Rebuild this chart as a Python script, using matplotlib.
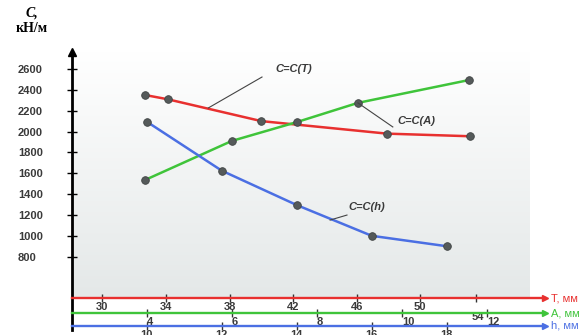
import numpy as np
import matplotlib
matplotlib.use('Agg')
import matplotlib.pyplot as plt
from matplotlib.colors import LinearSegmentedColormap

plt.rcParams['font.family'] = ['Liberation Sans', 'DejaVu Sans']

# данные
c_ticks = [800, 1000, 1200, 1400, 1600, 1800, 2000, 2200, 2400, 2600]

T_ticks = [30, 34, 38, 42, 46, 50]
A_ticks = [4, 6, 8, 10, 12]
h_ticks = [10, 12, 14, 16, 18]

T_vals = [32.7, 34.1, 40.0, 47.9, 53.1]
C_T = [2350, 2310, 2100, 1980, 1955]

A_vals = [3.96, 6.0, 7.52, 8.96, 11.58]
C_A = [1535, 1910, 2090, 2275, 2495]

h_vals = [10, 12, 14, 16, 18]
C_h = [2095, 1625, 1295, 1000, 900]

RED = '#e8302f'
GREEN = '#3fc43a'
BLUE = '#4b6fe3'
DOT = '#555a5a'
TXT = '#3a3a3a'
FS = 8

W, H = 581, 335
fig = plt.figure(figsize=(W / 100, H / 100), dpi=100)
rect = [72 / W, 5 / H, 473 / W, 278 / H]

ax = fig.add_axes(rect)
axA = fig.add_axes(rect, facecolor='none')
axh = fig.add_axes(rect, facecolor='none')

ylim = (96.4, 2763)
pos = {ax: 0.115, axA: 0.061, axh: 0.0144}
col = {ax: RED, axA: GREEN, axh: BLUE}
ax.set_xlim(28.09, 57.84)
axA.set_xlim(2.246, 13.354)
axh.set_xlim(8.008, 20.62)

for a in (ax, axA, axh):
    a.set_ylim(*ylim)
    a.patch.set_alpha(0)
    for s in ('top', 'right', 'left'):
        a.spines[s].set_visible(False)
    a.spines['bottom'].set_position(('axes', pos[a]))
    a.spines['bottom'].set_color(col[a])
    a.spines['bottom'].set_linewidth(1.7)
    a.tick_params(axis='x', direction='inout', length=5.5, width=1.0,
                  color='#333333', labelsize=FS, labelcolor=TXT, pad=0)
    a.plot([1], [pos[a]], marker='>', color=col[a], ms=4.5,
           transform=a.transAxes, clip_on=False)
    if a is not ax:
        a.yaxis.set_visible(False)

ax.set_xticks(T_ticks + [53.5])
ax.set_xticklabels([str(t) for t in T_ticks] + [''], fontweight='bold')
axA.set_xticks(A_ticks)
axA.set_xticklabels([str(t) for t in A_ticks], fontweight='bold', ha='left')
axh.set_xticks(h_ticks)
axh.set_xticklabels([str(t) for t in h_ticks], fontweight='bold')
ax.text(53.6, 0.048, '54', transform=ax.get_xaxis_transform(), ha='center',
        va='center', fontsize=FS, fontweight='bold', color=TXT)

# ось C
ax.spines['left'].set_visible(True)
ax.spines['left'].set_color('black')
ax.spines['left'].set_linewidth(2)
ax.set_yticks(c_ticks)
ax.set_yticklabels([str(c) for c in c_ticks], ha='left', fontweight='bold')
ax.tick_params(axis='y', direction='inout', length=7.2, width=1.0,
               labelsize=FS, labelcolor=TXT, pad=35.3)
ax.plot([0], [1], marker='^', color='black', ms=6, transform=ax.transAxes,
        clip_on=False)

# фон с градиентом
cmap = LinearSegmentedColormap.from_list('bg', ['#e4e8e8', '#ffffff'])
grad = np.linspace(0, 1, 256).reshape(-1, 1)
ax.imshow(grad, extent=[0, 0.968, pos[ax], 1], transform=ax.transAxes,
          aspect='auto', cmap=cmap, origin='lower', zorder=0)

# кривые
mk = dict(marker='o', ms=5.5, mfc=DOT, mec='#404444', mew=0.6, lw=1.8,
          solid_joinstyle='round')
ax.plot(T_vals, C_T, color=RED, **mk)
axA.plot(A_vals, C_A, color=GREEN, **mk)
axh.plot(h_vals, C_h, color=BLUE, **mk)

# подписи кривых
ax.plot([36.66, 40.04], [2226, 2523], color='#444444', lw=0.8)
ax.text(42.06, 2600, 'C=C(T)', ha='center', va='center', fontsize=FS,
        fontweight='bold', style='italic', color=TXT)
axA.plot([8.96, 9.78], [2275, 2044], color='#444444', lw=0.8)
axA.text(9.88, 2104, 'C=C(A)', ha='left', va='center', fontsize=FS,
         fontweight='bold', style='italic', color=TXT)
axh.plot([14.89, 15.34], [1151, 1199], color='#444444', lw=0.8)
axh.text(15.37, 1276, 'C=C(h)', ha='left', va='center', fontsize=FS,
         fontweight='bold', style='italic', color=TXT)

# подписи осей
for a, name in ((ax, 'T, мм'), (axA, 'A, мм'), (axh, 'h, мм')):
    a.text(1.012, pos[a], name, transform=a.transAxes, ha='left',
           va='center', fontsize=FS, color=col[a])

fig.text(32 / W, 1 - 13 / H, 'C,', ha='center', va='center', fontsize=10,
         fontweight='bold', style='italic', family='Liberation Serif')
fig.text(32 / W, 1 - 28 / H, 'кН/м', ha='center', va='center', fontsize=10,
         fontweight='bold', family='Liberation Serif')

fig.savefig('out.png', dpi=100)
